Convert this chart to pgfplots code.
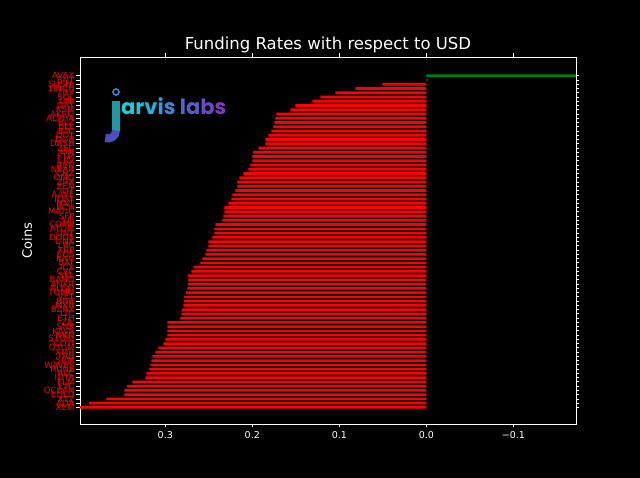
\documentclass[border=0pt]{standalone}
\usepackage{pgfplots}
\pgfplotsset{compat=1.18}
\usepackage{fontspec}
\setmainfont{DejaVu Sans}
\newfontfamily\poppins{Poppins}
\definecolor{la}{HTML}{16D0DC}
\definecolor{lr}{HTML}{1CC4DE}
\definecolor{lv}{HTML}{24B0E0}
\definecolor{li}{HTML}{2E9CE0}
\definecolor{ls}{HTML}{3A88DC}
\definecolor{ll}{HTML}{5266CC}
\definecolor{lA}{HTML}{5A5AC8}
\definecolor{lb}{HTML}{6A48C4}
\definecolor{lS}{HTML}{7A3CC0}
\definecolor{jteal}{HTML}{1C9AA6}
\definecolor{jpurp}{HTML}{4A50C0}
\definecolor{barred}{HTML}{FF0000}
\definecolor{bargreen}{HTML}{008000}
\begin{document}
\begin{tikzpicture}
\fill[black] (0pt,0pt) rectangle (640pt,478pt);
\begin{axis}[
  at={(80pt,54pt)}, anchor=south west,
  width=496pt, height=367pt, scale only axis,
  xbar, bar width=2.6pt,
  x dir=reverse, y dir=reverse,
  xmin=-0.172, xmax=0.398, ymin=-3.4, ymax=82.9,
  axis line style={white, line width=0.8pt},
  tick style={white, line width=0.8pt},
  tick align=outside, major tick length=3.5pt,
  xtick={-0.1,0,0.1,0.2,0.3},
  xticklabels={−0.1,0.0,0.1,0.2,0.3},
  xticklabel style={white, font=\fontsize{9.5}{10}\selectfont},
  ytick={1,...,79},
  yticklabels={AVAX,BNT,SUSHI,1INCH,TRX,SOL,UNI,GRT,KSM,AKRO,ALPHA,BLZ,BEL,BTC,DOT,DGB,DASH,ZEC,ENJ,FTM,CRV,REN,NEAR,CHZ,OMG,ZRX,ZEN,LIT,AAVE,IOST,HNT,BCH,MATIC,SFP,YFI,COMP,ATOM,ONT,DOGE,LINK,LRC,XRP,EOS,KNC,BAT,ICX,CVC,SKL,BAND,ANKR,ALGO,TOMO,VET,BNB,MKR,BZRX,LTC,ETH,ZIL,SNX,KAVA,NKN,STORJ,COTI,QTUM,XMR,TRB,SRM,WAVES,RUNE,RLC,IOTA,FLM,ETC,OCEAN,EGLD,XTZ,ADA,XEM},
  yticklabel style={barred, font=\fontsize{8.6}{9}\selectfont, inner sep=1.8pt},
  ylabel={Coins},
  every axis y label/.style={at={(rel axis cs:0,0.5)}, xshift=-53pt, rotate=90, anchor=center, white, font=\fontsize{13}{14}\selectfont},
  title={Funding Rates with respect to USD},
  every axis title/.style={at={(0.5,1)}, anchor=base, yshift=7pt, white, font=\fontsize{16.5}{18}\selectfont},
]
\addplot[fill=bargreen, draw=none, bar shift=0pt] coordinates {
(-0.175,1) (-0.0015,2)
};
\addplot[fill=barred, draw=none, bar shift=0pt] coordinates {
(0.0506,3) (0.0816,4) (0.1046,5) (0.1218,6) (0.1310,7) (0.1506,8) (0.1563,9) (0.1724,10)
(0.1736,11) (0.1747,12) (0.1759,13) (0.1782,14) (0.1816,15) (0.1851,16) (0.1851,17) (0.1931,18)
(0.1989,19) (0.2000,20) (0.2000,21) (0.2023,22) (0.2046,23) (0.2103,24) (0.2149,25) (0.2172,26)
(0.2172,27) (0.2195,28) (0.2230,29) (0.2241,30) (0.2276,31) (0.2322,32) (0.2322,33) (0.2333,34)
(0.2345,35) (0.2425,36) (0.2437,37) (0.2437,38) (0.2460,39) (0.2506,40) (0.2506,41) (0.2529,42)
(0.2540,43) (0.2575,44) (0.2598,45) (0.2667,46) (0.2701,47) (0.2736,48) (0.2736,49) (0.2736,50)
(0.2747,51) (0.2759,52) (0.2782,53) (0.2782,54) (0.2793,55) (0.2805,56) (0.2816,57) (0.2828,58)
(0.2977,59) (0.2977,60) (0.2977,61) (0.2977,62) (0.3000,63) (0.3023,64) (0.3080,65) (0.3115,66)
(0.3149,67) (0.3161,68) (0.3172,69) (0.3184,70) (0.3218,71) (0.3230,72) (0.3379,73) (0.3437,74)
(0.3471,75) (0.3471,76) (0.3678,77) (0.3874,78) (0.4000,79)
};
\end{axis}
% logo
\draw[ls, line width=1.6pt] (116pt,386pt) circle (3pt);
\draw[jteal, line width=8pt] (116pt,377pt) -- (116pt,347pt);
\draw[jpurp, line width=8pt] (116pt,347.5pt) arc[start angle=0, end angle=-110, radius=8pt];
\node[anchor=base west, inner sep=0pt, font=\poppins\bfseries\fontsize{21}{23}\selectfont] at (121pt,363pt)
  {\textcolor{la}{a}\textcolor{lr}{r}\textcolor{lv}{v}\textcolor{li}{i}\textcolor{ls}{s} \textcolor{ll}{l}\textcolor{lA}{a}\textcolor{lb}{b}\textcolor{lS}{s}};
\end{tikzpicture}
\end{document}
